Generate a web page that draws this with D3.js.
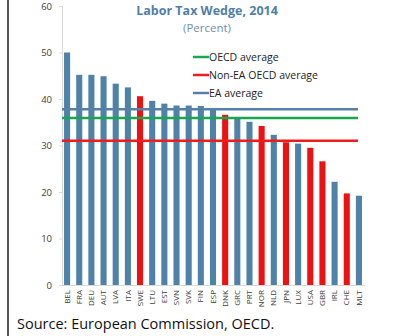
<!DOCTYPE html>
<html>
<head>
<meta charset="utf-8">
<script src="https://cdn.jsdelivr.net/npm/d3@7"></script>
<style>
  body { margin: 0; background: #fff; }
  svg { display: block; }
  .axis path, .axis line { stroke: #d9d9d9; }
  .axis text { fill: #404040; font-family: "Open Sans", sans-serif; }
</style>
</head>
<body>
<div id="chart"></div>
<script>
const countries = ['BEL', 'FRA', 'DEU', 'AUT', 'LVA', 'ITA', 'SWE', 'LTU', 'EST', 'SVN', 'SVK', 'FIN', 'ESP',
  'DNK', 'GRC', 'PRT', 'NOR', 'NLD', 'JPN', 'LUX', 'USA', 'GBR', 'IRL', 'CHE', 'MLT'];
const wedge = [50.0, 45.2, 45.2, 44.9, 43.3, 42.5, 40.6, 39.6, 39.0, 38.6, 38.6, 38.5, 37.9,
  36.6, 35.9, 35.1, 34.2, 32.3, 30.7, 30.4, 29.5, 26.6, 22.2, 19.7, 19.2];
// non-euro-area OECD members are drawn in red
const nonEA = ['SWE', 'DNK', 'NOR', 'JPN', 'USA', 'GBR', 'CHE'];
const averages = [
  { name: 'OECD average', value: 35.9, color: '#1aa64f' },
  { name: 'Non-EA OECD average', value: 31.0, color: '#ee1c1c' },
  { name: 'EA average', value: 37.8, color: '#5580a8' }
];
const yTicks = [0, 10, 20, 30, 40, 50, 60];

const W = 393, H = 336;
const barBlue = '#4e82a8', barRed = '#ee1111';

const svg = d3.select('#chart').append('svg')
  .attr('width', W)
  .attr('height', H);

// frame edge on the left
svg.append('rect').attr('x', 7).attr('y', 0).attr('width', 2).attr('height', H).attr('fill', '#555');

const x = d3.scaleBand().domain(countries).range([61, 365]).paddingInner(0.5).paddingOuter(0.25);
const y = d3.scaleLinear().domain([0, 60]).range([285, 6]);

svg.append('g').attr('class', 'axis')
  .attr('transform', 'translate(62,0)')
  .call(d3.axisLeft(y).tickValues(yTicks).tickSize(3).tickPadding(7))
  .call(g => g.selectAll('text').attr('font-size', 9.5));

svg.append('g').attr('class', 'axis')
  .attr('transform', 'translate(0,285)')
  .call(d3.axisBottom(x).tickSize(0).tickSizeOuter(0))
  .call(g => g.selectAll('text')
    .attr('font-size', 8)
    .attr('fill', '#555')
    .attr('transform', 'rotate(-90)')
    .attr('text-anchor', 'end')
    .attr('dx', 0)
    .attr('dy', '0.33em')
    .attr('y', 0)
    .attr('x', -5))
  .call(g => g.select('.domain').attr('d', 'M61.5,0.5H365'));

svg.selectAll('.bar').data(countries).enter()
  .append('rect')
  .attr('class', 'bar')
  .attr('x', d => x(d))
  .attr('width', x.bandwidth())
  .attr('y', (d, i) => y(wedge[i]))
  .attr('height', (d, i) => y(0) - y(wedge[i]))
  .attr('fill', d => nonEA.includes(d) ? barRed : barBlue);

svg.selectAll('.avg').data(averages).enter()
  .append('line')
  .attr('class', 'avg')
  .attr('x1', 62).attr('x2', 358)
  .attr('y1', d => y(d.value)).attr('y2', d => y(d.value))
  .attr('stroke', d => d.color)
  .attr('stroke-width', 2.5);

const legend = svg.selectAll('.legend').data(averages).enter()
  .append('g')
  .attr('class', 'legend')
  .attr('transform', (d, i) => `translate(193,${57 + i * 18})`);

legend.append('line')
  .attr('x1', 0).attr('x2', 16)
  .attr('stroke', d => d.color)
  .attr('stroke-width', 2.5);

legend.append('text')
  .attr('x', 16).attr('y', 4)
  .attr('font-family', '"Open Sans", sans-serif')
  .attr('font-size', 10.5)
  .attr('fill', '#222')
  .text(d => d.name);

svg.append('text')
  .attr('x', 207).attr('y', 15)
  .attr('text-anchor', 'middle')
  .attr('font-family', '"Open Sans", sans-serif')
  .attr('font-weight', 'bold')
  .attr('font-size', 12.5)
  .attr('fill', '#4f7fa8')
  .text('Labor Tax Wedge, 2014');

svg.append('text')
  .attr('x', 207).attr('y', 32)
  .attr('text-anchor', 'middle')
  .attr('font-family', '"Open Sans", sans-serif')
  .attr('font-size', 11.5)
  .attr('fill', '#6f8fb0')
  .text('(Percent)');

svg.append('text')
  .attr('x', 17).attr('y', 329)
  .attr('font-family', '"Open Sans", sans-serif')
  .attr('font-size', 14.5)
  .attr('fill', '#111')
  .text('Source: European Commission, OECD.');
</script>
</body>
</html>
